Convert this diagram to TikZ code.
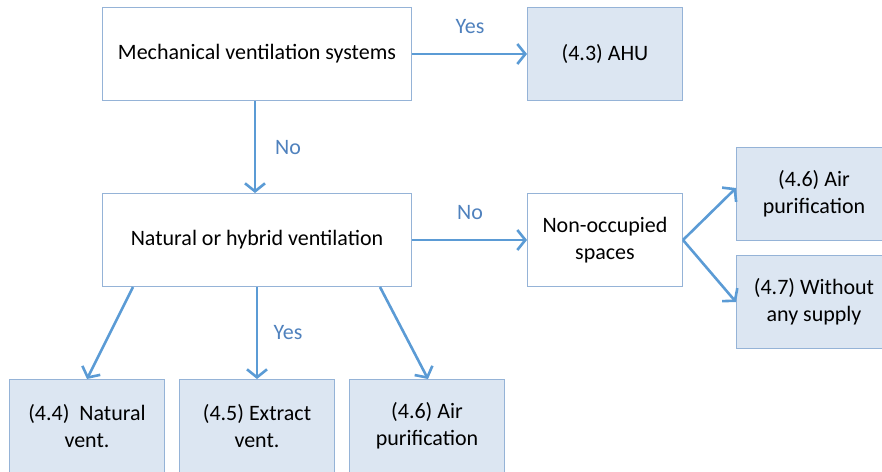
\documentclass[tikz,border=0pt]{standalone}
\usepackage{fontspec}
\setmainfont{Carlito}
\usetikzlibrary{arrows.meta,calc}
\definecolor{arrowblue}{HTML}{5B9BD5}
\definecolor{labelblue}{HTML}{4F81BD}
\definecolor{boxline}{HTML}{95B3D7}
\definecolor{boxfill}{HTML}{DCE6F2}
\tikzset{
  plainbox/.style={draw=boxline, line width=1pt, fill=white, anchor=north west,
    minimum width=155pt, minimum height=93pt, inner sep=0pt, align=center,
    font=\fontsize{22}{27}\selectfont, text=black},
  widebox/.style={plainbox, minimum width=309pt},
  resbox/.style={plainbox, fill=boxfill},
  conn/.style={draw=arrowblue, line width=2.6pt, -{Straight Barb[length=8pt,width=20pt]}},
  lbl/.style={text=labelblue, font=\fontsize{22}{26}\selectfont, inner sep=0pt}
}
\begin{document}
\begin{tikzpicture}[x=1pt,y=-1pt]
\useasboundingbox (0,0) rectangle (882,471);
\clip (0,0) rectangle (882,471);
\node[widebox] (mech) at (102,7) {Mechanical ventilation systems};
\node[resbox]  (ahu)  at (527,7) {(4.3) AHU};
\node[widebox] (nat)  at (102,193) {Natural or hybrid ventilation};
\node[plainbox] (non) at (527,193) {Non-occupied\\spaces};
\node[resbox] (air1) at (736,147) {(4.6) Air\\purification};
\node[resbox] (with) at (736,255) {(4.7) Without\\any supply};
\node[resbox] (n44) at (9,379) {(4.4)\ \ Natural\\vent.};
\node[resbox] (n45) at (179,379) {(4.5) Extract\\vent.};
\node[resbox] (n46) at (349,379) {(4.6) Air\\purification};

\draw[conn] (mech.east) -- (ahu.west);
\draw[conn] ($(mech.south west)+(153,0)$) -- ($(nat.north west)+(153,0)$);
\draw[conn] (nat.east) -- (non.west);
\draw[conn] (non.east) -- ($(air1.south west)+(0,-53)$);
\draw[conn] (non.east) -- ($(with.north west)+(0,47)$);
\draw[conn] ($(nat.south west)+(31,0)$) -- ($(n44.north west)+(78,0)$);
\draw[conn] ($(nat.south west)+(155,0)$) -- ($(n45.north west)+(78,0)$);
\draw[conn] ($(nat.south west)+(278,0)$) -- ($(n46.north west)+(79,0)$);

\node[lbl] (l1) at (470,27) {Yes};
\node[lbl] (l2) at (288,148) {No};
\node[lbl] (l3) at (470,213) {No};
\node[lbl] (l4) at (288,333) {Yes};
\end{tikzpicture}
\end{document}
